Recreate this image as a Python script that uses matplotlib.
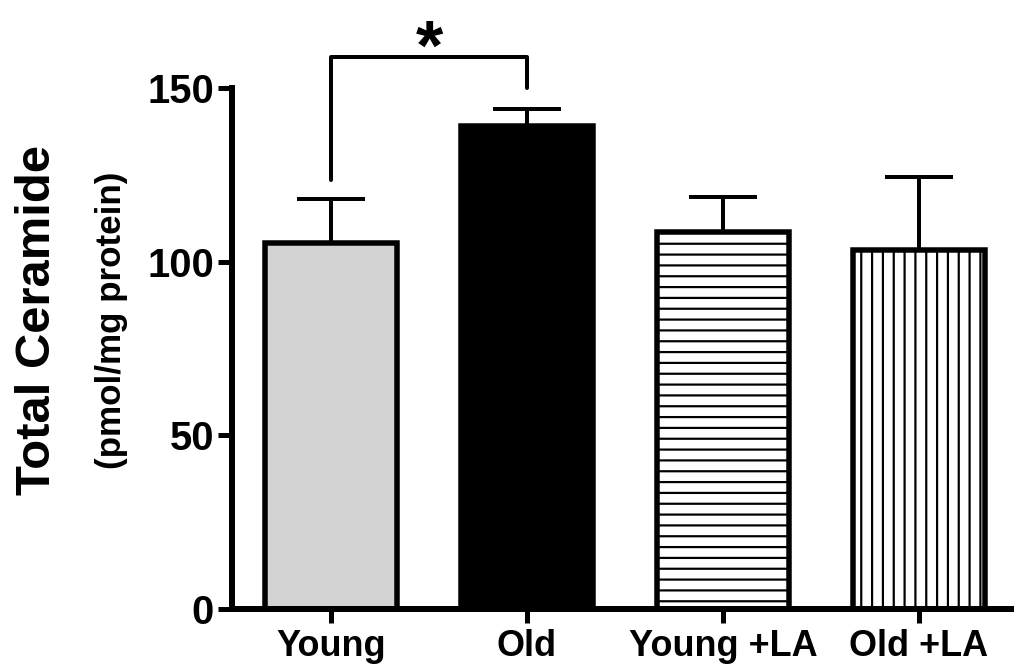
import matplotlib
matplotlib.use("Agg")
import matplotlib.pyplot as plt

groups = ["Young", "Old", "Young +LA", "Old +LA"]
means = [105.5, 139, 108.5, 103.5]
sem = [12.5, 5, 10, 21]
fills = ["#d3d3d3", "black", "white", "white"]
hatches = ["", "", "--", "||"]

DPI = 130
def pt(px):
    return px * 72.0 / DPI

plt.rcParams["font.family"] = ["Liberation Sans", "DejaVu Sans"]
plt.rcParams["font.weight"] = "bold"
plt.rcParams["hatch.linewidth"] = pt(2.2)

fig = plt.figure(figsize=(1014 / DPI, 671 / DPI), dpi=DPI)
ax = fig.add_axes([232 / 1014, 1 - 609 / 671, 1 - 232 / 1014, (609 - 88) / 671])

x = list(range(len(groups)))
ax.errorbar(x, means, yerr=[[0] * len(sem), sem], fmt="none", ecolor="black",
            elinewidth=pt(4), capsize=pt(34), capthick=pt(4), zorder=1)
for xi, m, c, h in zip(x, means, fills, hatches):
    ax.bar(xi, m, width=0.67, color=c, edgecolor="black", linewidth=pt(5.5),
           hatch=h, zorder=2)

# significance bracket Young vs Old
ax.plot([0, 0, 1, 1], [123.5, 159, 159, 150], color="black", lw=pt(4),
        clip_on=False, solid_capstyle="round")
ax.text(0.5, 160.5, "*", ha="center", va="center", fontsize=pt(70),
        fontweight="bold")

ax.set_xlim(-0.505, 3.485)
ax.set_ylim(0, 150)
ax.set_yticks([0, 50, 100, 150])
ax.set_xticks(x)
ax.set_xticklabels(groups, fontsize=pt(36), fontweight="bold")
for lab in ax.get_yticklabels():
    lab.set_fontsize(pt(40))
    lab.set_fontweight("bold")

for s in ["top", "right"]:
    ax.spines[s].set_visible(False)
for s in ["left", "bottom"]:
    ax.spines[s].set_linewidth(pt(6))
ax.tick_params(axis="both", direction="out", length=pt(14), width=pt(5), pad=pt(4))
ax.tick_params(axis="x", pad=pt(6))

fig.text(38 / 1014, 1 - 320 / 671, "Total Ceramide", rotation=90,
         ha="center", va="center", fontsize=pt(49), fontweight="bold")
fig.text(112 / 1014, 1 - 320 / 671, "(pmol/mg protein)", rotation=90,
         ha="center", va="center", fontsize=pt(35), fontweight="bold")

fig.savefig("out.png", dpi=DPI)
